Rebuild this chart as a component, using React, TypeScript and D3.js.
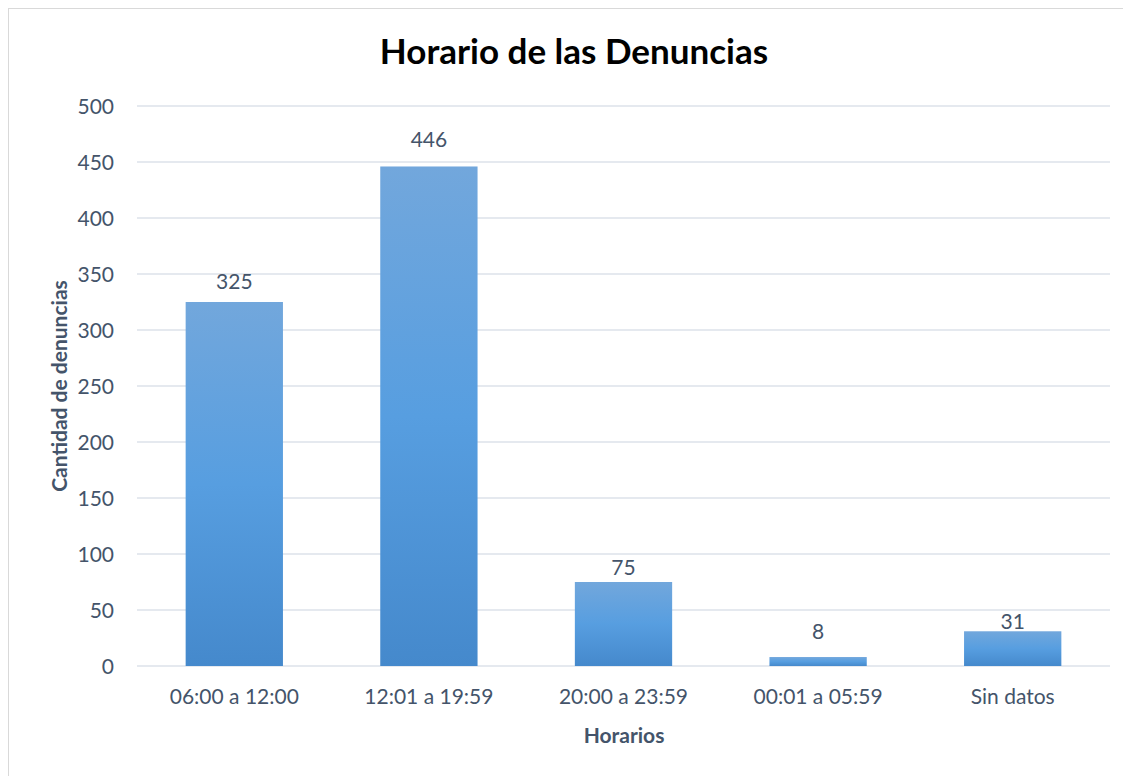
import React, { useEffect, useRef } from 'react'
import * as d3 from 'd3'

const categories = ['06:00 a 12:00', '12:01 a 19:59', '20:00 a 23:59', '00:01 a 05:59', 'Sin datos']
const values = [325, 446, 75, 8, 31]
const yTicks = [0, 50, 100, 150, 200, 250, 300, 350, 400, 450, 500]

// data labels were placed by hand in the original, gap above each bar (px)
const labelGap = [13, 19, 7, 18, 2]

const font = 'Lato, "Open Sans", sans-serif'
const textColor = '#44546a'

function App() {
  const ref = useRef<SVGSVGElement>(null)

  useEffect(() => {
    const svg = d3.select(ref.current)
    svg.selectAll('*').remove()

    const margin = { top: 98, right: 13, bottom: 102, left: 129 }
    const width = 1131
    const height = 776
    const x = d3.scaleBand().domain(categories).range([margin.left, 1102]).paddingInner(0.5).paddingOuter(0.25)
    const y = d3.scaleLinear().domain([0, 500]).range([658, margin.top])

    const defs = svg.append('defs')
    const grad = defs.append('linearGradient').attr('id', 'barGrad').attr('x1', 0).attr('y1', 0).attr('x2', 0).attr('y2', 1)
    grad.append('stop').attr('offset', '0%').attr('stop-color', '#72a7dc')
    grad.append('stop').attr('offset', '50%').attr('stop-color', '#579ee0')
    grad.append('stop').attr('offset', '100%').attr('stop-color', '#4589cc')

    // border
    svg.append('rect')
      .attr('x', 0.5).attr('y', 0.5)
      .attr('width', width).attr('height', height)
      .attr('fill', '#fff').attr('stroke', '#d9d9d9')

    // gridlines
    svg.append('g')
      .selectAll('line')
      .data(yTicks)
      .join('line')
      .attr('x1', margin.left).attr('x2', 1102)
      .attr('y1', d => y(d)).attr('y2', d => y(d))
      .attr('stroke', '#dde2ea').attr('stroke-width', 1.5)

    // y tick labels
    svg.append('g')
      .selectAll('text')
      .data(yTicks)
      .join('text')
      .attr('x', 106)
      .attr('y', d => y(d))
      .attr('dy', '0.36em')
      .attr('text-anchor', 'end')
      .attr('font-family', font).attr('font-size', 21).attr('fill', textColor)
      .text(d => d)

    // bars
    svg.append('g')
      .selectAll('rect')
      .data(values)
      .join('rect')
      .attr('x', (d, i) => x(categories[i])!)
      .attr('y', d => y(d))
      .attr('width', x.bandwidth())
      .attr('height', d => y(0) - y(d))
      .attr('fill', 'url(#barGrad)')

    // value labels
    svg.append('g')
      .selectAll('text')
      .data(values)
      .join('text')
      .attr('x', (d, i) => x(categories[i])! + x.bandwidth() / 2)
      .attr('y', (d, i) => y(d) - labelGap[i])
      .attr('text-anchor', 'middle')
      .attr('font-family', font).attr('font-size', 21).attr('fill', textColor)
      .text(d => d)

    // x tick labels
    svg.append('g')
      .selectAll('text')
      .data(categories)
      .join('text')
      .attr('x', d => x(d)! + x.bandwidth() / 2)
      .attr('y', 696)
      .attr('text-anchor', 'middle')
      .attr('font-family', font).attr('font-size', 21).attr('fill', textColor)
      .text(d => d)

    svg.append('text')
      .attr('x', 566).attr('y', 56)
      .attr('text-anchor', 'middle')
      .attr('font-family', font).attr('font-size', 35).attr('font-weight', 'bold').attr('fill', '#000')
      .text('Horario de las Denuncias')

    svg.append('text')
      .attr('x', 616).attr('y', 735)
      .attr('text-anchor', 'middle')
      .attr('font-family', font).attr('font-size', 21).attr('font-weight', 'bold').attr('fill', textColor)
      .text('Horarios')

    svg.append('text')
      .attr('transform', 'translate(59,378) rotate(-90)')
      .attr('text-anchor', 'middle')
      .attr('font-family', font).attr('font-size', 21).attr('font-weight', 'bold').attr('fill', textColor)
      .text('Cantidad de denuncias')
  }, [])

  return (
    <div>
      <svg ref={ref} width={1132} height={777} style={{ display: 'block' }} />
    </div>
  )
}

export default App
